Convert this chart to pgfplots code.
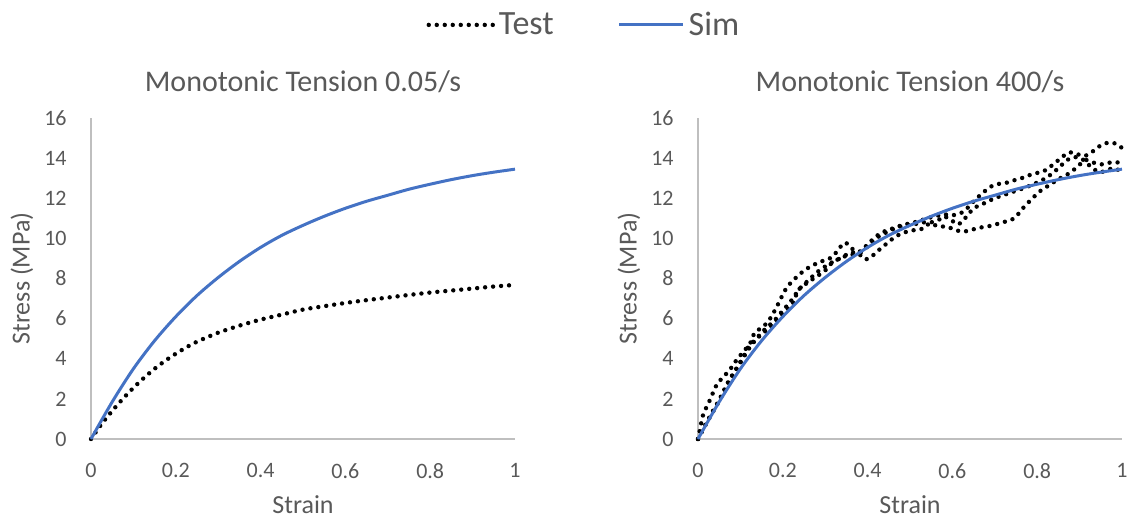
\documentclass[border=0pt]{standalone}
\usepackage{fontspec}
\setmainfont{Carlito}
\usepackage{pgfplots}
\pgfplotsset{compat=1.18}
\definecolor{SimBlue}{HTML}{4472C4}
\definecolor{TxtGray}{HTML}{595959}
\definecolor{AxGray}{HTML}{BFBFBF}

\pgfplotsset{
  tensionplot/.style={
    scale only axis, width=212pt, height=160.5pt,
    xmin=0, xmax=1, ymin=0, ymax=16,
    xtick={0,0.2,...,1}, ytick={0,2,...,16},
    axis x line*=bottom, axis y line*=left,
    axis line style={draw=AxGray, line width=0.8pt, -},
    major tick length=0pt,
    clip=false,
    /pgf/number format/assume math mode=true,
    tick label style={font=\fontsize{11}{13}\selectfont, text=TxtGray, inner sep=0pt},
    xticklabel style={anchor=north, yshift=-12pt},
    yticklabel style={anchor=east, xshift=-12pt},
    xlabel={Strain}, ylabel={Stress (MPa)},
    label style={font=\fontsize{13}{15}\selectfont, text=TxtGray},
    xlabel style={at={(axis description cs:0.5,-0.2336)}, anchor=base},
    ylabel style={at={(axis description cs:-0.145,0.5)}, anchor=base},
    title style={at={(0.5,1.045)}, anchor=base, font=\fontsize{15}{18}\selectfont, text=TxtGray},
  },
  testline/.style={black, line width=2.2pt, line cap=round, dash pattern=on 0pt off 4pt},
  simline/.style={SimBlue, line width=1.5pt},
}

\pgfplotstableread{
strain sim
0    0
0.05 1.85
0.1  3.5
0.15 4.9
0.2  6.1
0.25 7.15
0.3  8.05
0.35 8.85
0.4  9.55
0.45 10.15
0.5  10.65
0.55 11.1
0.6  11.5
0.65 11.85
0.7  12.15
0.75 12.45
0.8  12.7
0.85 12.93
0.9  13.13
0.95 13.3
1.0  13.45
}\simdata

\begin{document}
\begin{tikzpicture}
\useasboundingbox (-45.5pt,-40.5pt) rectangle (520pt,219.5pt);

\begin{axis}[tensionplot,
  title={Monotonic Tension 0.05/s},
  legend columns=2,
  legend style={at={(1.165,1.29)}, anchor=center, draw=none, fill=none,
    font=\fontsize{17}{20}\selectfont, text=TxtGray,
    /tikz/every even column/.append style={column sep=30pt}},
  legend image code/.code={\draw[#1] (0pt,0pt) -- (32pt,0pt);},
]
\addplot[testline, smooth] coordinates {
(0,0) (0.025,0.75) (0.05,1.4) (0.075,2.0) (0.1,2.55) (0.125,3.05) (0.15,3.5)
(0.175,3.9) (0.2,4.25) (0.225,4.57) (0.25,4.85) (0.275,5.08) (0.3,5.3) (0.35,5.65)
(0.4,5.95) (0.45,6.2) (0.5,6.45) (0.55,6.62) (0.6,6.78) (0.65,6.92) (0.7,7.05)
(0.75,7.18) (0.8,7.3) (0.85,7.4) (0.9,7.5) (0.95,7.6) (1.0,7.68)};
\addlegendentry{Test}
\addplot[simline, smooth] table[x=strain, y=sim] {\simdata};
\addlegendentry{Sim}
\end{axis}

\begin{axis}[tensionplot, at={(303.5pt,0pt)},
  title={Monotonic Tension 400/s},
]
% test specimen A
\addplot[testline, smooth] coordinates {
(0,0) (0.005,0.5) (0.012,1.2) (0.028,1.94) (0.044,2.7) (0.06,3.1) (0.075,3.45)
(0.091,3.94) (0.107,4.35) (0.123,4.77) (0.134,5.3) (0.154,5.6) (0.17,6.0)
(0.186,6.6) (0.205,7.4) (0.221,7.84) (0.237,8.15) (0.252,8.43) (0.268,8.62)
(0.288,8.84) (0.303,8.92) (0.319,9.12) (0.331,9.45) (0.347,9.79) (0.362,9.5)
(0.382,9.35) (0.40,9.7) (0.42,10.1) (0.44,10.35) (0.46,10.5) (0.48,10.65)
(0.50,10.75) (0.52,10.85) (0.54,11.0) (0.56,11.1) (0.58,11.2) (0.60,11.15)
(0.626,11.33) (0.653,11.91) (0.685,12.5) (0.704,12.7) (0.724,12.75) (0.743,12.88)
(0.763,13.0) (0.783,13.16) (0.803,13.28) (0.821,13.41) (0.846,13.83) (0.877,14.29)
(0.913,14.11) (0.948,14.61) (0.967,14.77) (0.987,14.71) (1.0,14.5)};
% test specimen B
\addplot[testline, smooth] coordinates {
(0,0) (0.01,0.4) (0.03,1.2) (0.05,1.95) (0.07,2.8) (0.09,3.5) (0.107,4.1)
(0.119,4.6) (0.138,5.0) (0.162,5.43) (0.185,5.93) (0.205,6.35) (0.229,6.93)
(0.233,7.35) (0.256,7.76) (0.28,8.1) (0.30,8.4) (0.315,8.76) (0.339,9.05)
(0.359,9.17) (0.38,9.2) (0.395,8.95) (0.409,9.09) (0.425,9.39) (0.441,9.67)
(0.457,9.95) (0.473,10.17) (0.492,10.33) (0.512,10.42) (0.532,10.5) (0.547,10.75)
(0.567,10.59) (0.587,10.59) (0.606,10.42) (0.626,10.34) (0.649,10.45) (0.669,10.55)
(0.689,10.62) (0.706,10.72) (0.724,10.83) (0.744,10.98) (0.758,11.28) (0.771,11.62)
(0.785,11.91) (0.799,12.21) (0.815,12.49) (0.830,12.66) (0.846,12.91) (0.865,13.11)
(0.881,13.33) (0.897,13.61) (0.913,13.91) (0.932,13.78) (0.952,13.69) (0.972,13.78)
(0.988,13.78) (1.0,13.83)};
% test specimen C
\addplot[testline, smooth] coordinates {
(0,0) (0.02,0.8) (0.05,1.9) (0.08,3.1) (0.1,3.8) (0.12,4.5) (0.15,5.3)
(0.18,5.9) (0.2,6.4) (0.22,6.9) (0.24,7.5) (0.26,7.9) (0.28,8.3) (0.3,8.6)
(0.32,8.85) (0.34,9.05) (0.36,9.3) (0.38,9.25) (0.39,9.4) (0.41,9.8) (0.43,10.15)
(0.45,10.35) (0.47,10.55) (0.49,10.65) (0.51,10.7) (0.53,10.8) (0.55,10.8)
(0.57,10.95) (0.58,11.1) (0.598,10.9) (0.614,10.7) (0.634,11.1) (0.65,11.5)
(0.67,11.7) (0.70,12.0) (0.74,12.3) (0.78,12.6) (0.82,13.0) (0.85,13.5)
(0.87,13.9) (0.89,14.05) (0.91,13.9) (0.93,13.5) (0.95,13.3) (0.98,13.5) (1.0,13.3)};
\addplot[simline, smooth] table[x=strain, y=sim] {\simdata};
\end{axis}
\end{tikzpicture}
\end{document}
